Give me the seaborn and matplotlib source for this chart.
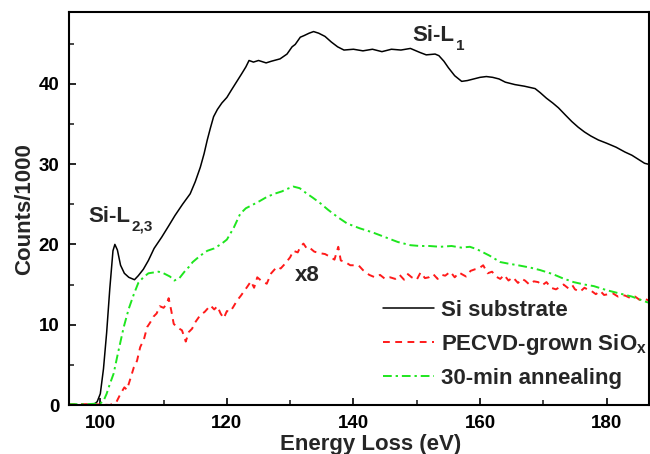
import matplotlib
matplotlib.use("Agg")
import matplotlib.pyplot as plt
from matplotlib.ticker import MultipleLocator
import numpy as np
import pandas as pd
import seaborn as sns

# ---- Si substrate (counts / 1000) ----
si_energy = [95, 97, 99, 99.5, 100, 100.5, 101, 101.5, 102, 102.3, 102.7, 103.2, 103.8,
             104.5, 105.4, 106, 106.8, 107.6, 108.5, 109.7, 110.8, 111.8, 113, 114.2, 115,
             115.8, 116.4, 116.9, 117.4, 117.9, 118.5, 119.2, 120, 120.7, 121.5, 122.3, 123,
             123.5, 124.2, 125, 126.2, 127, 128.4, 129.5, 130.3, 130.8, 131.6, 132.2, 133,
             133.7, 134.5, 135.5, 136.5, 137.5, 138.5, 140, 141.5, 143, 144.5, 146, 147.5,
             149, 150.5, 151.5, 152.9, 153.5, 154.3, 155, 156, 157.1, 158, 159, 160, 161,
             162, 163, 164, 165.5, 167, 168.7, 169.5, 170.5, 171.5, 172.4, 173.5, 174.5,
             175.5, 176.5, 177.5, 178.7, 180, 181.5, 182.9, 184, 185, 186, 187]
si_counts = [0.0, 0.0, 0.1, 0.4, 1.4, 4.5, 9.0, 14.5, 19.2, 20.0, 19.3, 17.4, 16.4,
             15.9, 15.6, 16.1, 16.9, 18.0, 19.5, 20.9, 22.3, 23.6, 25.0, 26.3, 27.8,
             29.6, 31.3, 33.0, 34.5, 35.9, 36.8, 37.6, 38.3, 39.2, 40.2, 41.2, 42.1,
             42.9, 42.7, 42.9, 42.6, 42.8, 43.1, 43.7, 44.6, 44.9, 45.8, 46.0, 46.3,
             46.5, 46.3, 45.9, 45.2, 44.6, 44.2, 44.3, 44.1, 44.3, 44.0, 44.3, 44.2,
             44.4, 43.9, 43.6, 43.7, 43.5, 42.8, 42.0, 41.0, 40.3, 40.4, 40.6, 40.8, 40.9,
             40.8, 40.6, 40.2, 39.9, 39.7, 39.4, 38.9, 38.2, 37.6, 37.0, 36.1, 35.3,
             34.6, 34.0, 33.5, 33.0, 32.6, 32.1, 31.5, 31.1, 30.6, 30.1, 29.9]

# ---- PECVD-grown SiOx (counts / 1000, scaled x8) ----
pecvd_energy = [95, 99, 101.5, 102.5, 103.2, 103.8, 104.2, 104.8, 105.3, 105.8, 106.3,
                106.9, 107.4, 107.9, 108.4, 108.9, 109.4, 110.0, 110.5, 110.8, 111.2, 111.6,
                112.0, 112.5, 112.9, 113.3, 113.5, 114.0, 114.5, 115.0, 115.8, 116.5, 117.4,
                118, 118.5, 119, 119.5, 120, 120.5, 121.0, 121.6, 122.2, 123.2, 123.8, 124.3,
                124.8, 125.4, 126.3, 127, 127.9, 128.5, 129.2, 130, 130.5, 131.2, 131.6, 132.1,
                132.7, 133.2, 133.8, 134.7, 135.5, 136.2, 137, 137.6, 138.0, 138.7, 139.5,
                140.8, 141.5, 142.5, 143.4, 144.2, 145, 145.8, 146.6, 147.3, 148, 148.6,
                149.2, 150, 150.6, 151.3, 151.9, 152.6, 153.3, 154, 154.5, 155.3, 156, 156.7,
                157.1, 157.8, 158.5, 159.2, 159.8, 160.5, 161.2, 161.9, 162.5, 163.2, 163.8,
                164.5, 165.2, 166, 166.6, 167.1, 167.8, 168.5, 169.2, 169.8, 170.5, 171.2,
                172.0, 172.4, 173.2, 174, 174.6, 175.0, 175.8, 176.5, 177.2, 177.6, 178.3,
                179, 179.6, 180.3, 181, 181.8, 182.5, 183, 183.8, 184.5, 185.2, 186.1, 187]
pecvd_counts = [0.1, 0.1, 0.0, 0.3, 1.4, 2.2, 1.9, 3.4, 4.7, 5.5, 7.2,
                8.2, 9.7, 10.3, 11.0, 11.4, 12.3, 12.1, 12.6, 13.3, 11.8, 10.1,
                9.8, 9.5, 9.3, 8.4, 7.9, 9.1, 9.5, 10.3, 11.2, 11.6, 12.4,
                11.9, 12.3, 11.4, 10.8, 11.7, 11.6, 12.2, 13.0, 13.6, 14.7, 15.4, 14.6,
                15.9, 15.5, 15.1, 16.4, 17.2, 17.0, 17.6, 18.4, 19.2, 19.0, 19.7, 20.1,
                19.4, 19.5, 19.1, 18.9, 18.8, 18.5, 18.1, 19.7, 18.0, 17.8, 17.4,
                17.4, 16.8, 16.2, 15.9, 16.2, 15.7, 15.9, 15.7, 16.2, 15.6, 16.3,
                15.9, 15.6, 16.5, 15.8, 15.9, 16.3, 15.7, 16.2, 16.1, 16.6, 15.9, 16.5,
                16.3, 16.0, 16.7, 16.9, 17.0, 17.4, 16.4, 16.6, 16.0, 15.7, 16.2,
                15.5, 15.9, 15.2, 15.7, 15.5, 15.0, 15.4, 15.3, 14.9, 15.3, 14.6,
                14.4, 14.6, 15.0, 14.5, 14.9, 14.4, 14.1, 14.6, 14.3, 14.2, 13.8,
                14.2, 13.7, 13.8, 13.9, 13.5, 13.7, 13.6, 13.3, 13.5, 13.1, 13.2, 12.9]

# ---- 30-min annealing (counts / 1000) ----
anneal_energy = [95, 98, 100, 100.5, 101, 101.5, 102.1, 102.8, 103.7, 104.5, 105.3, 106,
                 106.8, 107.6, 108.4, 109.2, 110, 111, 111.7, 112.5, 113.3, 114, 114.6,
                 115.8, 116.9, 118, 119.2, 120, 121.1, 122.1, 123, 124, 125.2, 126.3, 127.5,
                 128.7, 129.5, 130.5, 131.5, 132.5, 133.6, 134.8, 136, 137.5, 139, 141, 143,
                 145, 147, 149, 150.5, 152, 153.7, 155.5, 157, 158.4, 159.5, 160.5, 161.5,
                 163.2, 164.5, 166, 168, 169.5, 171.5, 173, 174.8, 176.5, 178, 180, 182,
                 184, 186.4, 187]
anneal_counts = [0.1, 0.1, 0.2, 0.5, 1.4, 2.6, 3.9, 6.5, 9.7, 12.0, 13.8, 15.2,
                 15.9, 16.4, 16.5, 16.6, 16.4, 16.0, 15.5, 15.8, 16.6, 17.2, 17.8,
                 18.6, 19.2, 19.5, 20.1, 20.6, 22.1, 23.8, 24.5, 24.9, 25.4, 25.9, 26.3,
                 26.6, 26.9, 27.2, 27.0, 26.4, 25.8, 25.1, 24.3, 23.4, 22.6, 22.0, 21.5,
                 20.9, 20.3, 19.9, 19.8, 19.8, 19.7, 19.8, 19.6, 19.7, 19.4, 19.0, 18.6,
                 17.8, 17.6, 17.4, 17.1, 16.8, 16.3, 15.8, 15.3, 15.0, 14.8, 14.3, 13.9,
                 13.5, 12.8, 12.7]

series_labels = ["Si substrate", r"PECVD-grown SiO$_\mathregular{x}$", "30-min annealing"]

x_ticks = [100, 120, 140, 160, 180]
y_ticks = [0, 10, 20, 30, 40]

sns.set_theme(style="ticks")
plt.rcParams["font.family"] = ["Liberation Sans", "DejaVu Sans"]
plt.rcParams["font.weight"] = "bold"
plt.rcParams["mathtext.fontset"] = "custom"
plt.rcParams["mathtext.rm"] = "Liberation Sans:bold"
plt.rcParams["mathtext.it"] = "Liberation Sans:bold"
plt.rcParams["mathtext.bf"] = "Liberation Sans:bold"
plt.rcParams["mathtext.default"] = "rm"

fig = plt.figure(figsize=(6.5, 4.54), dpi=100)
ax = fig.add_axes([69.3 / 650, 49 / 454, (649 - 69.3) / 650, (405 - 12.3) / 454])

df_si = pd.DataFrame({"E": si_energy, "C": si_counts})
df_pe = pd.DataFrame({"E": pecvd_energy, "C": pecvd_counts})
df_an = pd.DataFrame({"E": anneal_energy, "C": anneal_counts})

sns.lineplot(data=df_si, x="E", y="C", ax=ax, color="black", linewidth=1.1,
             label=series_labels[0])
sns.lineplot(data=df_pe, x="E", y="C", ax=ax, color="#ff1a1a", linewidth=1.4,
             label=series_labels[1])
sns.lineplot(data=df_an, x="E", y="C", ax=ax, color="#1ee61e", linewidth=1.4,
             label=series_labels[2])
ax.lines[1].set_dashes((3.5, 2.8))
ax.lines[2].set_dashes((4.5, 2.0, 1.2, 2.0))

ax.set_xlim(95.1, 186.7)
ax.set_ylim(0, 48.9)
ax.set_xticks(x_ticks)
ax.set_yticks(y_ticks)
ax.xaxis.set_minor_locator(MultipleLocator(10))
ax.yaxis.set_minor_locator(MultipleLocator(5))
ax.tick_params(which="major", direction="in", length=5, width=1.2, labelsize=13.5,
               pad=7, colors="black")
ax.tick_params(which="minor", direction="in", length=3.5, width=1.2)
for lab in ax.get_xticklabels() + ax.get_yticklabels():
    lab.set_fontweight("bold")
for sp in ax.spines.values():
    sp.set_visible(True)
    sp.set_linewidth(1.5)
    sp.set_color("black")

ax.set_xlabel("Energy Loss (eV)", fontsize=16, fontweight="bold")
ax.set_ylabel("Counts/1000", fontsize=16, fontweight="bold")
ax.xaxis.set_label_coords(0.519, -0.073)
ax.yaxis.set_label_coords(-0.059, 0.5)


def label_with_sub(x, y, base, sub):
    """Peak label with a lowered, smaller subscript placed right after the base text."""
    t = ax.text(x, y, base, fontsize=16, fontweight="bold", va="baseline")
    ax.annotate(sub, xy=(1, 0), xycoords=t, xytext=(1.0, -2.5),
                textcoords="offset points", fontsize=11, fontweight="bold",
                va="baseline", ha="left")
    return t


label_with_sub(98.1, 22.8, "Si-L", "2,3")
label_with_sub(149.3, 45.3, "Si-L", "1")
ax.text(130.8, 15.4, "x8", fontsize=16, fontweight="bold", va="baseline")

leg = ax.legend(loc="upper left", bbox_to_anchor=((383 - 69.3) / 579.7, (405 - 300) / 392.7),
                frameon=False, fontsize=16, handlelength=2.3, handletextpad=0.3,
                labelspacing=0.5, borderaxespad=0, borderpad=0)
for t in leg.get_texts():
    t.set_fontweight("bold")

fig.savefig("out.png", dpi=100)
